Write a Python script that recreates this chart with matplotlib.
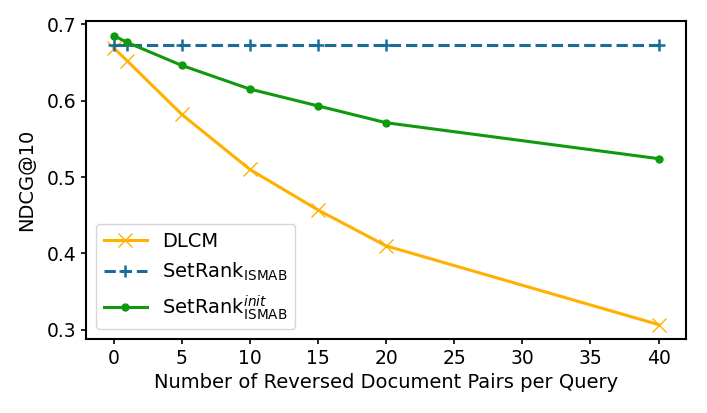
import matplotlib
matplotlib.use("Agg")
import matplotlib.pyplot as plt

pairs = [0, 1, 5, 10, 15, 20, 40]
dlcm = [0.669, 0.652, 0.582, 0.510, 0.457, 0.410, 0.307]
setrank = [0.673, 0.673, 0.673, 0.673, 0.673, 0.673, 0.673]
setrank_init = [0.685, 0.676, 0.646, 0.615, 0.593, 0.571, 0.524]
xticks = [0, 5, 10, 15, 20, 25, 30, 35, 40]

plt.rcParams['font.size'] = 13.5

fig, ax = plt.subplots(figsize=(7.07, 4.13), dpi=100)

ax.plot(pairs, dlcm, color='#ffb000', marker='x', markersize=10, linewidth=2.2, label='DLCM')
ax.plot(pairs, setrank, color='#186d9a', marker='+', markersize=9, markeredgewidth=1.8,
        linewidth=2.2, linestyle='--', label=r'SetRank$_{\mathrm{ISMAB}}$')
ax.plot(pairs, setrank_init, color='#0f990f', marker='.', markersize=10, linewidth=2.2,
        label=r'SetRank$_{\mathrm{ISMAB}}^{init}$')

ax.set_xticks(xticks)
ax.set_yticks([0.3, 0.4, 0.5, 0.6, 0.7])
ax.set_xlabel('Number of Reversed Document Pairs per Query', fontsize=14)
ax.set_ylabel('NDCG@10', fontsize=14, labelpad=8)
for s in ax.spines.values():
    s.set_linewidth(1.5)
ax.tick_params(width=1.2)
ax.legend(loc='lower left', fontsize=14, handlelength=2.2)

fig.subplots_adjust(left=0.122, right=0.970, top=0.949, bottom=0.179)
fig.savefig('out.png')
